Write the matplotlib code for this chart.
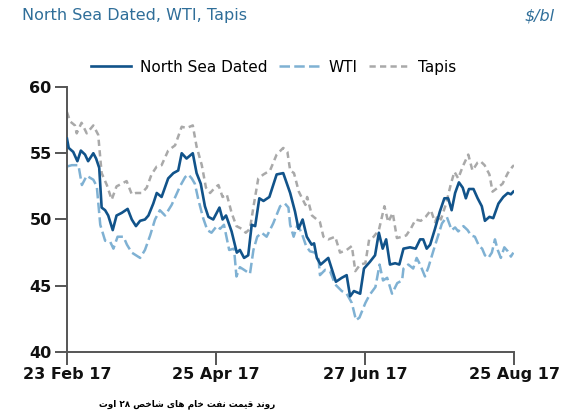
import matplotlib

matplotlib.use("Agg")
import matplotlib.pyplot as plt

# x is trading-day index from 23 Feb 17 (0) to 25 Aug 17 (129), y in $/bl
nsd_pts = [
    (0.0, 56.1), (0.5, 55.4), (1.8, 55.1), (3.0, 54.4), (4.0, 55.2), (5.2, 54.9),
    (6.1, 54.4), (7.6, 55.0), (8.4, 54.6), (9.3, 53.9), (10.0, 50.9), (11.0, 50.7),
    (11.9, 50.3), (13.2, 49.2), (14.3, 50.3), (15.8, 50.5), (17.5, 50.8), (18.7, 50.0),
    (19.9, 49.5), (21.1, 49.9), (22.5, 50.0), (23.5, 50.3), (24.9, 51.2), (25.9, 52.0),
    (27.3, 51.7), (29.2, 53.1), (30.7, 53.5), (32.1, 53.7), (33.1, 55.0), (34.5, 54.6),
    (36.3, 55.0), (37.4, 53.5), (38.6, 52.7), (39.8, 51.0), (40.8, 50.2), (42.2, 50.0),
    (44.0, 50.9), (44.9, 50.0), (45.9, 50.3), (47.5, 49.1), (49.0, 47.5), (49.9, 47.7),
    (51.1, 47.1), (52.3, 47.3), (53.3, 49.6), (54.3, 49.5), (55.5, 51.6), (56.7, 51.4),
    (58.4, 51.7), (60.5, 53.4), (62.4, 53.5), (64.4, 52.0), (65.8, 50.6), (66.8, 49.3),
    (68.0, 50.0), (69.2, 48.7), (70.6, 48.1), (71.3, 48.2), (72.1, 47.1), (73.2, 46.6),
    (75.4, 47.1), (77.6, 45.3), (79.3, 45.6), (80.7, 45.8), (81.7, 44.2), (82.8, 44.6),
    (84.6, 44.4), (85.7, 46.3), (87.4, 46.8), (88.9, 47.3), (90.0, 49.0), (91.1, 47.8),
    (92.1, 48.5), (93.2, 46.6), (94.7, 46.7), (95.9, 46.6), (97.1, 47.8), (99.0, 47.9),
    (100.6, 47.8), (101.9, 48.5), (102.8, 48.5), (103.8, 47.8), (104.8, 48.1),
    (106.2, 49.3), (107.6, 50.6), (108.9, 51.6), (110.0, 51.6), (111.0, 50.7),
    (112.0, 52.0), (113.1, 52.8), (114.2, 52.4), (115.1, 51.6), (116.0, 52.3),
    (117.3, 52.3), (118.5, 51.6), (119.7, 51.0), (120.6, 49.9), (121.9, 50.2),
    (123.0, 50.1), (124.5, 51.2), (125.9, 51.7), (127.2, 52.0), (128.1, 51.9),
    (128.8, 52.1),
]

wti_pts = [
    (0.0, 54.0), (1.4, 54.1), (3.3, 54.1), (4.3, 52.6), (5.7, 53.3), (7.6, 53.0),
    (8.6, 52.5), (9.6, 49.6), (11.0, 48.4), (12.5, 48.3), (13.4, 47.8), (14.6, 48.7),
    (16.3, 48.7), (17.3, 48.1), (18.7, 47.5), (19.9, 47.3), (21.1, 47.1), (22.5, 47.7),
    (24.0, 48.8), (25.4, 50.0), (26.8, 50.7), (28.3, 50.3), (30.2, 51.1), (32.1, 52.2),
    (32.6, 52.5), (34.1, 53.2), (35.0, 53.4), (36.0, 53.1), (36.9, 52.7), (37.9, 51.5),
    (39.3, 50.1), (40.5, 49.2), (41.7, 49.0), (43.2, 49.5), (44.2, 49.3), (45.3, 49.6),
    (46.8, 47.7), (48.2, 47.8), (48.9, 45.7), (49.9, 46.4), (51.1, 46.2), (52.8, 45.9),
    (53.8, 47.7), (54.9, 48.7), (56.2, 49.0), (57.6, 48.7), (59.5, 49.7), (61.5, 51.0),
    (62.9, 51.2), (63.9, 50.9), (64.4, 49.6), (65.4, 48.7), (66.5, 49.6), (67.7, 49.0),
    (69.0, 48.0), (70.1, 47.6), (71.6, 47.5), (72.6, 47.0), (73.0, 45.8), (74.5, 46.2),
    (75.9, 46.1), (77.4, 45.1), (79.3, 44.6), (80.7, 44.4), (82.2, 43.7), (83.4, 42.4),
    (84.4, 42.6), (86.1, 43.7), (87.3, 44.3), (89.0, 44.9), (90.2, 46.6), (91.2, 45.4),
    (92.4, 45.6), (93.8, 44.4), (95.3, 45.2), (96.7, 45.4), (97.1, 46.3), (98.5, 46.6),
    (99.9, 46.3), (100.9, 47.1), (101.9, 46.6), (103.3, 45.7), (104.3, 46.4),
    (105.8, 47.7), (107.0, 48.7), (108.2, 49.7), (109.6, 50.2), (111.0, 49.2),
    (112.0, 49.4), (112.9, 49.1), (114.4, 49.5), (115.6, 49.2), (116.6, 48.8),
    (117.7, 48.7), (118.9, 48.0), (119.8, 47.8), (120.6, 47.3), (121.6, 47.1),
    (122.6, 47.5), (123.5, 48.5), (124.3, 47.7), (125.2, 47.1), (126.2, 47.9),
    (127.2, 47.6), (128.1, 47.2), (128.8, 47.5),
]

tapis_pts = [
    (0.0, 58.1), (0.9, 57.4), (2.3, 57.1), (2.8, 56.5), (4.2, 57.3), (5.7, 56.5),
    (7.6, 57.1), (9.0, 56.4), (10.0, 53.5), (11.5, 52.6), (12.9, 51.5), (14.3, 52.5),
    (15.8, 52.7), (17.2, 52.9), (18.7, 51.9), (19.9, 52.0), (21.6, 52.0), (23.0, 52.4),
    (24.4, 53.4), (25.9, 54.0), (27.3, 54.1), (29.2, 55.2), (31.2, 55.6), (33.1, 57.0),
    (34.5, 56.9), (36.3, 57.1), (37.4, 55.5), (38.9, 54.1), (40.1, 52.4), (41.3, 52.0),
    (42.7, 52.4), (43.7, 52.6), (44.9, 51.7), (46.1, 51.9), (47.5, 50.5), (48.9, 49.5),
    (50.4, 49.3), (51.6, 49.0), (52.8, 49.3), (53.9, 51.1), (55.2, 53.1), (56.7, 53.4),
    (58.6, 53.7), (60.5, 54.9), (62.4, 55.4), (63.6, 55.1), (64.4, 53.7), (65.5, 53.5),
    (66.9, 52.1), (68.8, 51.1), (69.3, 51.7), (70.7, 50.3), (72.1, 50.0), (73.0, 49.8),
    (74.0, 48.7), (75.4, 48.5), (77.4, 48.7), (78.8, 47.5), (80.7, 47.7), (82.2, 48.0),
    (83.2, 46.1), (84.6, 46.6), (86.1, 46.7), (87.2, 48.5), (88.5, 48.7), (90.0, 49.2),
    (91.6, 51.0), (92.7, 49.8), (94.0, 50.5), (95.2, 48.6), (96.7, 48.7), (97.9, 48.8),
    (99.2, 49.3), (100.6, 50.0), (102.1, 49.9), (103.5, 50.2), (105.0, 50.7),
    (106.2, 49.8), (107.0, 50.3), (107.9, 50.0), (109.4, 51.2), (110.8, 52.7),
    (111.8, 53.6), (112.9, 53.1), (114.2, 54.0), (115.8, 54.9), (117.0, 53.7),
    (118.5, 54.3), (119.3, 54.4), (120.5, 54.1), (121.9, 53.4), (122.8, 52.1),
    (124.3, 52.4), (125.7, 52.7), (127.2, 53.5), (128.6, 54.0), (129.0, 54.1),
]

tick_pos = [0, 43, 86, 129]
tick_labels = ["23 Feb 17", "25 Apr 17", "27 Jun 17", "25 Aug 17"]
y_ticks = [40, 45, 50, 55, 60]

title = "North Sea Dated, WTI, Tapis"
unit = "$/bl"
caption = "روند قیمت نفت خام های شاخص ۲۸ اوت"

NSD_COLOR = "#11538a"
WTI_COLOR = "#7fb1d3"
TAPIS_COLOR = "#a9a9a9"
TEXT_BLUE = "#2f6e99"

# --- minimal Arabic-script shaping (matplotlib has no shaper / bidi) ---
_FORMS = {
    "ا": ("\ufe8d", "\ufe8e", None, None),
    "ت": ("\ufe95", "\ufe96", "\ufe97", "\ufe98"),
    "خ": ("\ufea5", "\ufea6", "\ufea7", "\ufea8"),
    "د": ("\ufea9", "\ufeaa", None, None),
    "ر": ("\ufead", "\ufeae", None, None),
    "ش": ("\ufeb5", "\ufeb6", "\ufeb7", "\ufeb8"),
    "ص": ("\ufeb9", "\ufeba", "\ufebb", "\ufebc"),
    "ف": ("\ufed1", "\ufed2", "\ufed3", "\ufed4"),
    "ق": ("\ufed5", "\ufed6", "\ufed7", "\ufed8"),
    "م": ("\ufee1", "\ufee2", "\ufee3", "\ufee4"),
    "ن": ("\ufee5", "\ufee6", "\ufee7", "\ufee8"),
    "ه": ("\ufee9", "\ufeea", "\ufeeb", "\ufeec"),
    "و": ("\ufeed", "\ufeee", None, None),
    "ی": ("\ufbfc", "\ufbfd", "\ufbfe", "\ufbff"),
}


def _shape_word(word: str) -> str:
    out = []
    for i, ch in enumerate(word):
        if ch not in _FORMS:
            out.append(ch)
            continue
        prev = word[i - 1] if i > 0 else None
        nxt = word[i + 1] if i + 1 < len(word) else None
        joins_prev = prev in _FORMS and _FORMS[prev][2] is not None
        joins_next = nxt in _FORMS and _FORMS[ch][2] is not None
        iso, fin, ini, med = _FORMS[ch]
        if joins_prev and joins_next:
            out.append(med)
        elif joins_prev:
            out.append(fin)
        elif joins_next:
            out.append(ini)
        else:
            out.append(iso)
    return "".join(out)


def _visual_rtl(text: str) -> str:
    vis = []
    for w in reversed(text.split(" ")):
        if all(c.isdigit() for c in w):
            vis.append(w)
        else:
            vis.append(_shape_word(w)[::-1])
    return " ".join(vis)


fig = plt.figure(figsize=(5.76, 4.15), dpi=100)
ax = fig.add_axes([0.1163, 0.1518, 0.7761, 0.6386])

ax.plot([p[0] for p in nsd_pts], [p[1] for p in nsd_pts], color=NSD_COLOR,
        linewidth=1.9, label="North Sea Dated", zorder=3)
ax.plot([p[0] for p in wti_pts], [p[1] for p in wti_pts], color=WTI_COLOR,
        linewidth=1.8, dashes=(4.2, 1.7), label="WTI", zorder=2)
ax.plot([p[0] for p in tapis_pts], [p[1] for p in tapis_pts], color=TAPIS_COLOR,
        linewidth=1.8, dashes=(2.5, 1.7), label="Tapis", zorder=1)

ax.set_xlim(0, 129)
ax.set_ylim(40, 60)
ax.set_xticks(tick_pos)
ax.set_xticklabels(tick_labels)
ax.set_yticks(y_ticks)
for side in ("top", "right"):
    ax.spines[side].set_visible(False)
for side in ("left", "bottom"):
    ax.spines[side].set_color("#555555")
    ax.spines[side].set_linewidth(1.4)
ax.tick_params(axis="both", direction="out", length=9, width=1.4,
               color="#555555", labelsize=11.5, pad=2, labelcolor="#111111")
for lbl in ax.get_xticklabels() + ax.get_yticklabels():
    lbl.set_fontweight("bold")

fig.legend(loc="center", bbox_to_anchor=(0.475, 0.838), ncol=3, frameon=False,
           fontsize=11, handlelength=2.6, columnspacing=0.75, handletextpad=0.6)

fig.text(0.038, 0.962, title, color=TEXT_BLUE, fontsize=11.5, va="center",
         ha="left")
fig.text(0.962, 0.962, unit, color=TEXT_BLUE, fontsize=11.5, va="center",
         ha="right", style="italic")
fig.text(0.325, 0.027, _visual_rtl(caption), fontsize=6.4, fontweight="bold",
         ha="center", va="center", family=["DejaVu Sans"])

fig.savefig("out.png", dpi=100)
